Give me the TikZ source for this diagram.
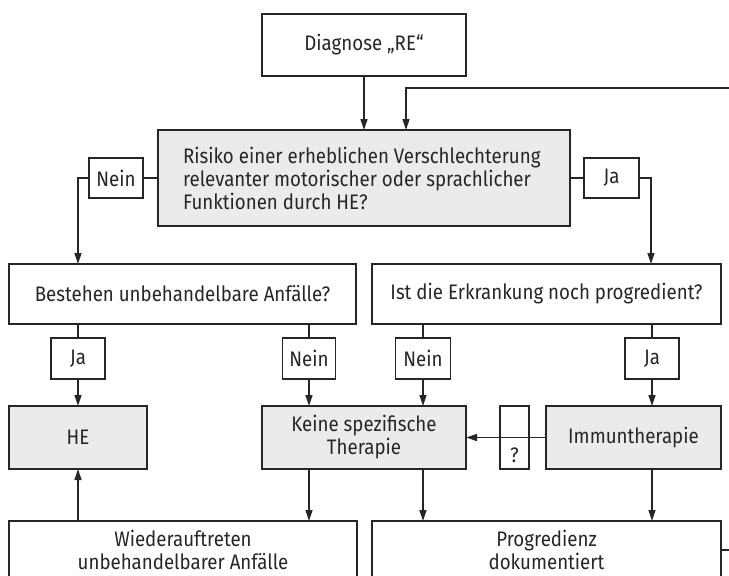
\documentclass[tikz,border=0pt]{standalone}
\usepackage{fontspec}
\setmainfont{Fira Sans}[FakeStretch=0.89]
\usetikzlibrary{arrows.meta}
\definecolor{boxgray}{HTML}{EBEBEB}
\definecolor{ink}{HTML}{262626}
\begin{document}
\begin{tikzpicture}[x=1pt,y=-1pt,
  font=\fontsize{21}{23}\selectfont,
  every node/.style={inner sep=0pt,outer sep=0pt,text=ink},
  box/.style={draw=ink,line width=1.3pt,fill=white,align=center},
  gbox/.style={box,fill=boxgray},
  lbl/.style={draw=ink,line width=1.3pt,fill=white,align=center},
  ln/.style={draw=ink,line width=1.3pt},
  arr/.style={ln,-{Triangle[length=11pt,width=7pt]}}]
\useasboundingbox (0,0) rectangle (729,576);
\clip (0,0) rectangle (729,576);
% main boxes
\node[box,minimum width=204pt,minimum height=62pt] (diag) at (364,45) {Diagnose „RE“};
\node[gbox,minimum width=412pt,minimum height=96pt] (risk) at (364,178) {};
\node[align=left,anchor=west] (risktxt) at (183,178)
  {Risiko einer erheblichen Verschlechterung\\relevanter motorischer oder sprachlicher\\Funktionen durch HE?};
\node[lbl,minimum width=54pt,minimum height=40pt] (nein1) at (116,178) {Nein};
\node[lbl,minimum width=55pt,minimum height=40pt] (ja1) at (611.5,178) {Ja};
\node[box,minimum width=347pt,minimum height=60pt] (best) at (182.5,294) {Bestehen unbehandelbare Anfälle?};
\node[box,minimum width=349pt,minimum height=60pt] (ist) at (546.5,294) {Ist die Erkrankung noch progredient?};
\node[lbl,minimum width=54pt,minimum height=41pt] (ja2) at (78,358.5) {Ja};
\node[lbl,minimum width=53pt,minimum height=41pt] (nein2) at (309,358.5) {Nein};
\node[lbl,minimum width=55pt,minimum height=41pt] (nein3) at (423,358.5) {Nein};
\node[lbl,minimum width=54pt,minimum height=41pt] (ja3) at (652,358.5) {Ja};
\node[gbox,minimum width=138pt,minimum height=63pt] (he) at (78,437.5) {HE};
\node[gbox,minimum width=204pt,minimum height=63pt] (keine) at (364,437.5) {Keine spezifische\\Therapie};
\node[lbl,minimum width=29pt,minimum height=63pt] (q) at (514.5,437.5) {};
\node (qt) at (514.5,455) {?};
\node[gbox,minimum width=175pt,minimum height=63pt] (imm) at (633.5,437.5) {Immuntherapie};
\node[box,minimum width=348pt,minimum height=80pt] (wied) at (183,561) {};
\node[align=center] (wiedt) at (183,550) {Wiederauftreten\\unbehandelbarer Anfälle};
\node[box,minimum width=349pt,minimum height=80pt] (prog) at (546.5,561) {};
\node[align=center] (progt) at (546.5,550) {Progredienz\\dokumentiert};
% feedback coordinates
\coordinate (fbtop) at (740,88);
\coordinate (fbright) at (740,550);
% connectors
\draw[arr] (diag.south) -- (diag.south |- risk.north);
\draw[arr] (fbtop) -| ([xshift=42pt]risk.north);
\draw[ln] (risk.west) -- (nein1.east);
\draw[arr] (nein1.west) -| (ja2.north |- best.north);
\draw[ln] (risk.east) -- (ja1.west);
\draw[arr] (ja1.east) -| ([xshift=-1pt]ja3.north |- ist.north);
\draw[ln] (ja2.north |- best.south) -- (ja2.north);
\draw[arr] (ja2.south) -- (ja2.south |- he.north);
\draw[ln] (nein2.north |- best.south) -- (nein2.north);
\draw[arr] (nein2.south) -- (nein2.south |- keine.north);
\draw[ln] (nein3.north |- ist.south) -- (nein3.north);
\draw[arr] (nein3.south) -- (nein3.south |- keine.north);
\draw[ln] (ja3.north |- ist.south) -- (ja3.north);
\draw[arr] (ja3.south) -- (ja3.south |- imm.north);
\draw[arr] (imm.west) -- (keine.east);
\draw[arr] (nein2.south |- keine.south) -- (nein2.south |- wied.north);
\draw[arr] (nein3.south |- keine.south) -- (nein3.south |- prog.north);
\draw[arr] (ja3.south |- imm.south) -- (ja3.south |- prog.north);
\draw[arr] (he.south |- wied.north) -- (he.south);
\draw[ln] (prog.east |- fbright) -- (fbright);
\end{tikzpicture}
\end{document}
